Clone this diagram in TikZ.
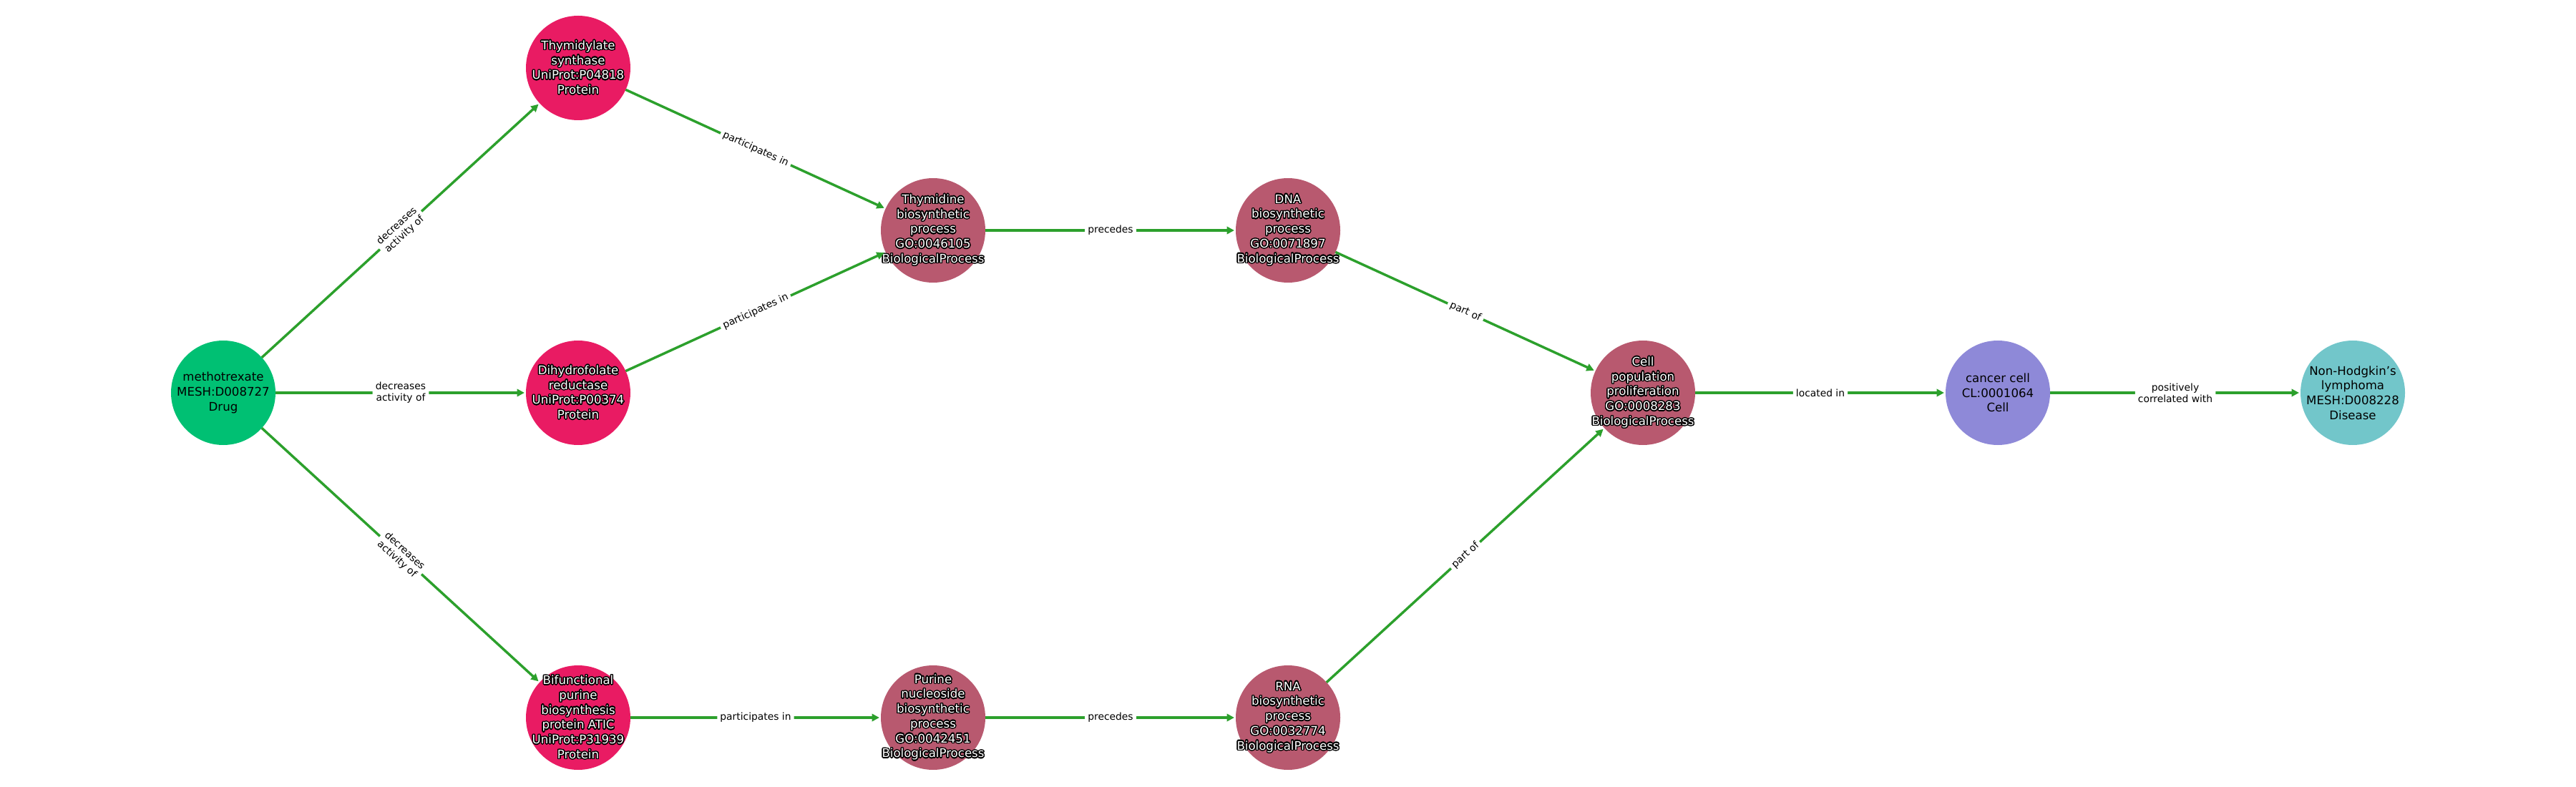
\documentclass[tikz,border=0pt]{standalone}
\usepackage{fontspec}
\setmainfont{DejaVu Sans}
\usepackage{contour}
\contourlength{1pt}
\contournumber{24}
\usepackage{tikz}
\usetikzlibrary{arrows.meta}
\usetikzlibrary{positioning}

\definecolor{drugcol}{RGB}{0,192,115}
\definecolor{protcol}{RGB}{233,27,99}
\definecolor{proccol}{RGB}{184,89,111}
\definecolor{cellcol}{RGB}{142,137,216}
\definecolor{discol}{RGB}{114,198,202}
\definecolor{edgecol}{RGB}{44,160,44}

\newcommand{\wtx}[1]{\contour{black}{#1}}

\begin{document}
\begin{tikzpicture}[x=4.96in,y=2.27in]
		\tikzstyle{ent} = [circle, minimum size=1.46in, inner sep=0pt, outer sep=0pt]
		\tikzstyle{txt} = [align=center, inner sep=0pt, font=\fontsize{12}{15}\selectfont]
		\tikzstyle{wtxt} = [txt, text=white]
		\tikzstyle{drug} = [ent, fill=drugcol]
		\tikzstyle{prot} = [ent, fill=protcol]
		\tikzstyle{proc} = [ent, fill=proccol]
		\tikzstyle{celltype} = [ent, fill=cellcol]
		\tikzstyle{dis} = [ent, fill=discol]
		\tikzstyle{link} = [line width=2.5pt, draw=edgecol, -{Triangle[length=7.5pt,width=7.5pt]}, shorten >=1.5pt]
		\tikzstyle{lbl} = [sloped, fill=white, rounded corners=3pt, inner sep=3pt, align=center, text=black, font=\fontsize{10}{11.5}\selectfont]
		\useasboundingbox (-3.12in,-5.51in) rectangle (32.88in,5.49in);
		% drug and its targets
		\node (mtx) [drug, label={[txt]center:methotrexate\\MESH:D008727\\Drug}] at (0,0) {};
		\node (tys) [prot, label={[wtxt]center:\wtx{Thymidylate}\\\wtx{synthase}\\\wtx{UniProt:P04818}\\\wtx{Protein}}] at (1,2) {};
		\node (dhfr) [prot, label={[wtxt]center:\wtx{Dihydrofolate}\\\wtx{reductase}\\\wtx{UniProt:P00374}\\\wtx{Protein}}] at (1,0) {};
		\node (atic) [prot, label={[wtxt]center:\wtx{Bifunctional}\\\wtx{purine}\\\wtx{biosynthesis}\\\wtx{protein ATIC}\\\wtx{UniProt:P31939}\\\wtx{Protein}}] at (1,-2) {};
		% processes
		\node (thy) [proc, label={[wtxt]center:\wtx{Thymidine}\\\wtx{biosynthetic}\\\wtx{process}\\\wtx{GO:0046105}\\\wtx{BiologicalProcess}}] at (2,1) {};
		\node (pur) [proc, label={[wtxt]center:\wtx{Purine}\\\wtx{nucleoside}\\\wtx{biosynthetic}\\\wtx{process}\\\wtx{GO:0042451}\\\wtx{BiologicalProcess}}] at (2,-2) {};
		\node (dna) [proc, label={[wtxt]center:\wtx{DNA}\\\wtx{biosynthetic}\\\wtx{process}\\\wtx{GO:0071897}\\\wtx{BiologicalProcess}}] at (3,1) {};
		\node (rna) [proc, label={[wtxt]center:\wtx{RNA}\\\wtx{biosynthetic}\\\wtx{process}\\\wtx{GO:0032774}\\\wtx{BiologicalProcess}}] at (3,-2) {};
		\node (cpp) [proc, label={[wtxt]center:\wtx{Cell}\\\wtx{population}\\\wtx{proliferation}\\\wtx{GO:0008283}\\\wtx{BiologicalProcess}}] at (4,0) {};
		\node (cc) [celltype, right=3.5in of cpp, label={[txt]center:cancer cell\\CL:0001064\\Cell}] {};
		\node (nhl) [dis, right=3.5in of cc, label={[txt]center:Non-Hodgkin's\\lymphoma\\MESH:D008228\\Disease}] {};
		% relations
		\draw[link] (mtx) -- node[lbl] {decreases\\activity of} (tys);
		\draw[link] (mtx) -- node[lbl] {decreases\\activity of} (dhfr);
		\draw[link] (mtx) -- node[lbl] {decreases\\activity of} (atic);
		\draw[link] (tys) -- node[lbl] {participates in} (thy);
		\draw[link] (dhfr) -- node[lbl] {participates in} (thy);
		\draw[link] (atic) -- node[lbl] {participates in} (pur);
		\draw[link] (thy) -- node[lbl] {precedes} (dna);
		\draw[link] (pur) -- node[lbl] {precedes} (rna);
		\draw[link] (dna) -- node[lbl] {part of} (cpp);
		\draw[link] (rna) -- node[lbl] {part of} (cpp);
		\draw[link] (cpp) -- node[lbl] {located in} (cc);
		\draw[link] (cc) -- node[lbl] {positively\\correlated with} (nhl);
	\end{tikzpicture}
\end{document}
